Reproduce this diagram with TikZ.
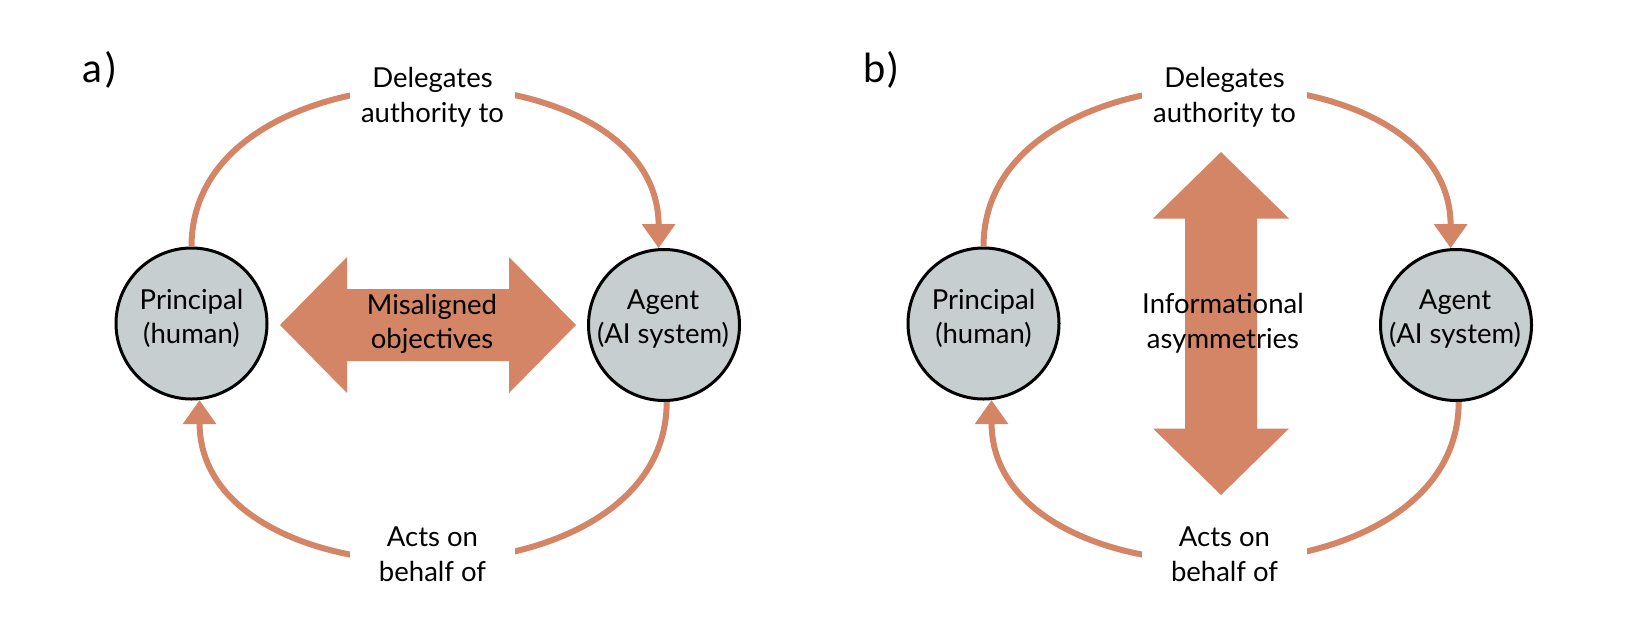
\documentclass[tikz,border=0pt]{standalone}
\usepackage{fontspec}
\setmainfont{Lato}
\usetikzlibrary{arrows.meta,calc}
\definecolor{salmon}{RGB}{212,133,102}
\definecolor{circfill}{RGB}{198,206,208}
\begin{document}
\begin{tikzpicture}[x=0.5pt,y=-0.5pt,
  circ/.style={circle,draw=black,line width=1.5pt,fill=circfill,minimum size=75.5pt,inner sep=0pt},
  txt/.style={align=center,inner sep=0pt,font=\fontsize{13.75}{17.25}\selectfont},
  lab/.style={txt,fill=white,minimum width=82.5pt,minimum height=40pt},
  conn/.style={draw=salmon,line width=3pt,-{Triangle[length=12pt,width=16pt]}},
  bigarrow/.style={fill=salmon},
  panel/.style={font=\fontsize{20}{24}\selectfont,anchor=base west,inner sep=0pt}]
\useasboundingbox (0,0) rectangle (1642,632);
\fill[white] (0,0) rectangle (1642,632);

% ---------- panel a ----------
\node[panel] (la) at (82,82) {a\kern1.5pt)};
\node[circ] (P1) at (191.5,323.5) {};
\node[circ] (A1) at (664,325) {};
\draw[conn] (P1.north) to[out=90,in=90,looseness=1.15] (A1.94.5);
\draw[conn] (A1.-88) to[out=-90,in=-90,looseness=1.15] (P1.-84);
\node[lab] (d1) at (432.5,97) {Delegates\\authority to};
\node[lab] (b1) at (432.5,554) {Acts on\\behalf of};
\fill[bigarrow,shift={(428,325)}] (-148,0) -- (-81,-68) -- (-81,-36) -- (81,-36) -- (81,-68) -- (148,0) -- (81,68) -- (81,36) -- (-81,36) -- (-81,68) -- cycle;
\node[txt] (mis) at (432,324) {Misaligned\\objectives};
\node[txt] (P1t) at (191.5,318.5) {Principal\\(human)};
\node[txt] (A1t) at (663,319) {Agent\\(AI system)};

% ---------- panel b ----------
\node[panel] (lb) at (863,82) {b\kern1pt)};
\node[circ] (P2) at (983.5,323.5) {};
\node[circ] (A2) at (1456,325) {};
\draw[conn] (P2.north) to[out=90,in=90,looseness=1.15] (A2.94.5);
\draw[conn] (A2.-88) to[out=-90,in=-90,looseness=1.15] (P2.-84);
\node[lab] (d2) at (1224.5,97) {Delegates\\authority to};
\node[lab] (b2) at (1224.5,554) {Acts on\\behalf of};
\fill[bigarrow,shift={(1221,323.5)}] (0,-171.5) -- (68,-105) -- (36,-105) -- (36,105) -- (68,105) -- (0,171.5) -- (-68,105) -- (-36,105) -- (-36,-105) -- (-68,-105) -- cycle;
\node[txt] (inf) at (1223,323) {Informational\\asymmetries};
\node[txt] (P2t) at (983.5,318.5) {Principal\\(human)};
\node[txt] (A2t) at (1455,319) {Agent\\(AI system)};
\end{tikzpicture}
\end{document}
